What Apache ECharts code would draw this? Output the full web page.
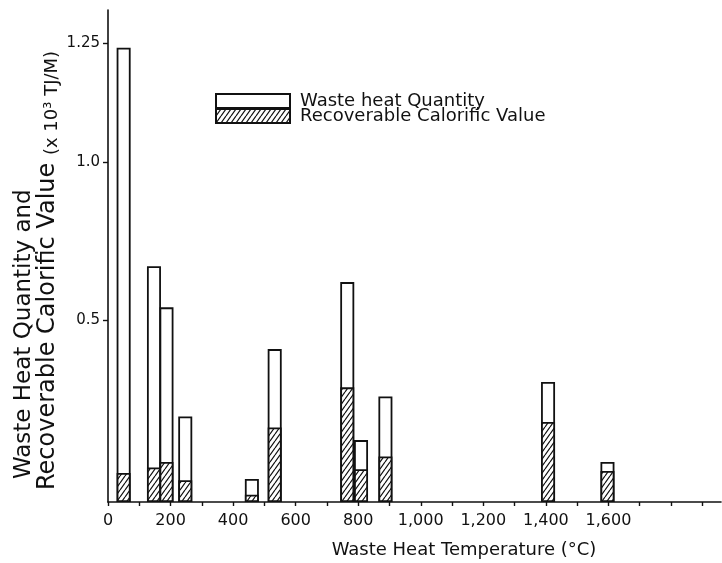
<!DOCTYPE html>
<html>
<head>
<meta charset="utf-8">
<script src="https://cdn.jsdelivr.net/npm/echarts@6/dist/echarts.min.js"></script>
<style>
  html, body { margin: 0; padding: 0; background: #fff; }
  #chart { width: 722px; height: 563px; }
</style>
</head>
<body>
<div id="chart"></div>
<script>
// Temperature at which each bar is drawn (°C)
const temperatures = [50, 147, 187, 247, 460, 533, 765, 809, 887, 1407, 1597];
// Waste heat quantity (x 10^3 TJ/M)
const wasteHeat = [1.24, 0.67, 0.54, 0.235, 0.063, 0.42, 0.62, 0.17, 0.29, 0.33, 0.11];
// Recoverable calorific value (x 10^3 TJ/M)
const recoverable = [0.08, 0.095, 0.11, 0.06, 0.02, 0.205, 0.315, 0.09, 0.125, 0.22, 0.085];

const seriesNames = ['Waste heat Quantity', 'Recoverable Calorific Value'];
const xLabelValues = [0, 200, 400, 600, 800, 1000, 1200, 1400, 1600];
const xTickValues = [0, 100, 200, 300, 400, 500, 600, 700, 800, 900, 1000,
                     1100, 1200, 1300, 1400, 1500, 1600, 1700, 1800, 1900];
const yTickValues = [0.5, 1.0, 1.25];
const yTickLabels = ['0.5', '1.0', '1.25'];

// The value axis is printed unevenly: each labelled value sits at its own
// height, so the scale is piecewise linear between these anchors.
const Y_SCALE = { values: [0, 0.5, 1.0, 1.25], units: [0, 182, 340, 459], top: 492 };
function warp(v) {
  const a = Y_SCALE.values, u = Y_SCALE.units;
  let i = 0;
  while (i < a.length - 2 && v > a[i + 1]) i++;
  return u[i] + (v - a[i]) * (u[i + 1] - u[i]) / (a[i + 1] - a[i]);
}

// Diagonal hatching used for the recoverable part of each bar
function hatchPattern() {
  const w = 5, h = 7;
  const c = document.createElement('canvas');
  c.width = w; c.height = h;
  const g = c.getContext('2d');
  g.fillStyle = '#fff';
  g.fillRect(0, 0, w, h);
  g.strokeStyle = '#111';
  g.lineWidth = 1.2;
  g.beginPath();
  g.moveTo(0, h); g.lineTo(w, 0);
  g.moveTo(-w, h); g.lineTo(0, 0);
  g.moveTo(w, h); g.lineTo(2 * w, 0);
  g.stroke();
  return c;
}

const INK = '#111';
const FONT = 'DejaVu Sans';

// One legend block per series so the two swatches sit directly on top of each other
function legendBlock(name, top, textPadding) {
  return {
    orient: 'vertical',
    left: 215,
    top: top,
    padding: 0,
    itemWidth: 74,
    itemHeight: 14,
    icon: 'rect',
    selectedMode: false,
    data: [name],
    textStyle: { color: INK, fontFamily: FONT, fontSize: 18, padding: textPadding }
  };
}

const chart = echarts.init(document.getElementById('chart'), null, { renderer: 'canvas' });

chart.setOption({
  animation: false,
  backgroundColor: '#fff',
  grid: { left: 108, right: 1, top: 10, bottom: 61, containLabel: false },
  legend: [
    legendBlock(seriesNames[0], 92, [0, 0, 2, 5]),
    legendBlock(seriesNames[1], 107, [2, 0, 0, 5])
  ],
  xAxis: {
    type: 'value',
    min: 0,
    max: 1960,
    axisLine: { show: true, lineStyle: { color: INK, width: 1.6 } },
    axisTick: { show: true, customValues: xTickValues, length: 4, lineStyle: { color: INK, width: 1.4 } },
    axisLabel: {
      customValues: xLabelValues,
      formatter: v => v.toLocaleString('en-US'),
      color: INK, fontFamily: FONT, fontSize: 16, margin: 11
    },
    splitLine: { show: false }
  },
  yAxis: {
    type: 'value',
    min: 0,
    max: Y_SCALE.top,
    axisLine: { show: true, onZero: false, lineStyle: { color: INK, width: 1.6 } },
    axisTick: { show: true, customValues: yTickValues.map(warp), length: 5, lineStyle: { color: INK, width: 1.4 } },
    axisLabel: {
      customValues: yTickValues.map(warp),
      formatter: u => {
        let best = 0;
        yTickValues.forEach((v, i) => {
          if (Math.abs(warp(v) - u) < Math.abs(warp(yTickValues[best]) - u)) best = i;
        });
        return yTickLabels[best];
      },
      color: INK, fontFamily: FONT, fontSize: 15, margin: 8
    },
    splitLine: { show: false }
  },
  series: [
    {
      name: seriesNames[0],
      type: 'bar',
      barWidth: 14,
      barGap: '-100%',
      data: temperatures.map((t, i) => [t, warp(wasteHeat[i])]),
      itemStyle: { color: '#fff', borderColor: INK, borderWidth: 1.8 }
    },
    {
      name: seriesNames[1],
      type: 'bar',
      barWidth: 14,
      barGap: '-100%',
      data: temperatures.map((t, i) => [t, warp(recoverable[i])]),
      itemStyle: { color: { image: hatchPattern(), repeat: 'repeat' }, borderColor: INK, borderWidth: 1.8 }
    }
  ],
  graphic: [
    {
      type: 'text',
      x: 24, y: 479, rotation: Math.PI / 2,
      style: {
        text: 'Waste Heat Quantity and',
        fill: INK, font: '23px "DejaVu Sans"',
        align: 'left', verticalAlign: 'middle'
      }
    },
    {
      type: 'text',
      x: 48, y: 490, rotation: Math.PI / 2,
      style: {
        text: '{m|Recoverable Calorific Value }{s|(x 10³ TJ/M)}',
        fill: INK,
        align: 'left', verticalAlign: 'middle',
        rich: {
          m: { fontFamily: FONT, fontSize: 24, fill: INK, lineHeight: 26 },
          s: { fontFamily: FONT, fontSize: 18, fill: INK, verticalAlign: 'bottom', lineHeight: 26 }
        }
      }
    },
    {
      type: 'text',
      x: 464, y: 550,
      style: {
        text: 'Waste Heat Temperature (°C)',
        fill: INK, font: '18px "DejaVu Sans"',
        align: 'center', verticalAlign: 'middle'
      }
    }
  ]
});
</script>
</body>
</html>
